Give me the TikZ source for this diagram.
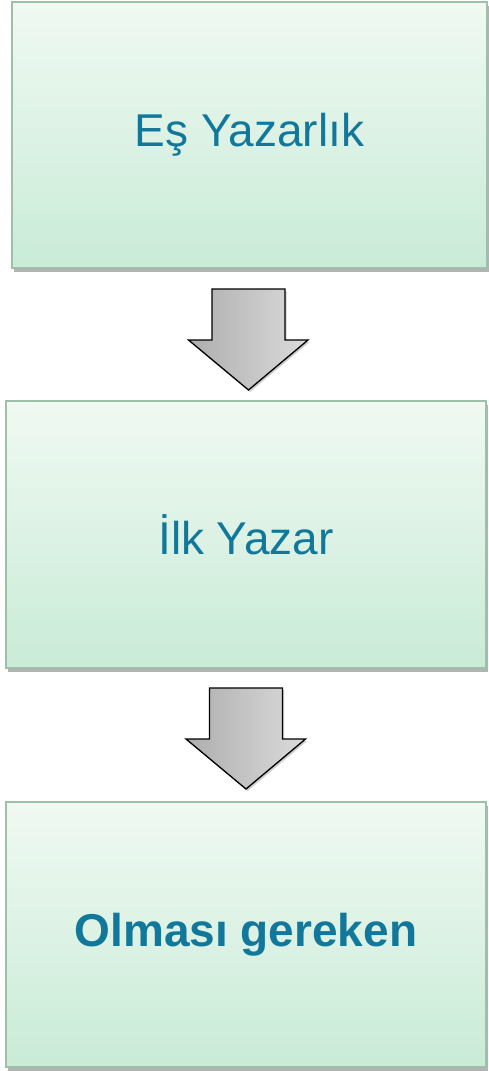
\documentclass[tikz,border=0pt]{standalone}
\usepackage{fontspec}
\setmainfont{Liberation Sans}
\usetikzlibrary{positioning,shadows,calc}

\definecolor{tealtext}{RGB}{18,120,155}
\definecolor{boxtop}{RGB}{240,249,242}
\definecolor{boxbot}{RGB}{201,235,215}
\definecolor{boxline}{RGB}{158,192,168}

\begin{document}
\begin{tikzpicture}[
  x=1pt, y=-1pt,
  every node/.style={align=center},
  stage/.style={draw=boxline, line width=1.3pt, top color=boxtop, bottom color=boxbot,
                minimum width=480pt, minimum height=266pt, inner sep=0pt,
                font=\fontsize{46}{52}\selectfont, text=tealtext,
                drop shadow={shadow xshift=2pt, shadow yshift=-4pt, opacity=0.6}},
  blockarr/.style={draw=black, line width=1.3pt, line join=miter,
                   left color=black!32, right color=black!14,
                   drop shadow={shadow xshift=1.5pt, shadow yshift=-2pt, opacity=0.4}},
]
\useasboundingbox (0,0) rectangle (489,1071);

%% --- Stages ---
\node[stage, minimum width=475pt] (S1) at (249.5,135)   {Eş Yazarlık};
\node[stage, minimum height=267pt] (S2) at (246,534.5) {İlk Yazar};
\node[stage, minimum height=265pt] (S3) at (246,934.5) {\bfseries Olması gereken};

%% --- Block arrows between stages ---
\coordinate (A1) at (248.5,289);
\coordinate (A2) at (246,688);
\foreach \a in {A1,A2}
  \draw[blockarr] ($(\a)+(-36.5,0)$) -- ++(73,0) -- ++(0,51) -- ++(23,0)
    -- ($(\a)+(0,101)$) -- ($(\a)+(-60,51)$) -- ++(23.5,0) -- cycle;

\end{tikzpicture}
\end{document}
